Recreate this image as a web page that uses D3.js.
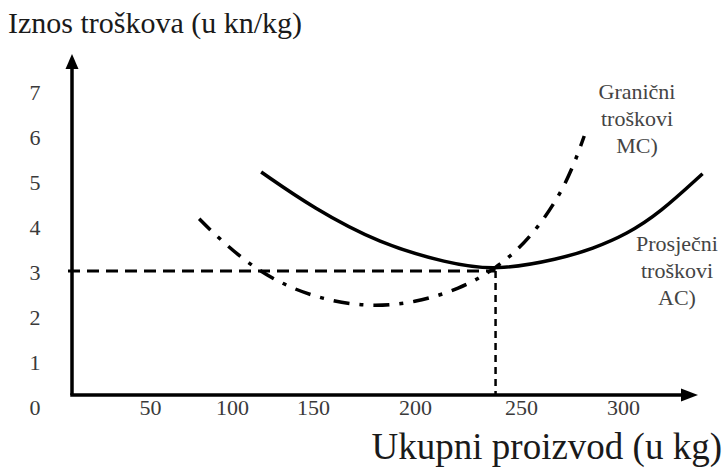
<!DOCTYPE html>
<html>
<head>
<meta charset="utf-8">
<script src="https://cdn.jsdelivr.net/npm/d3@7"></script>
<style>
    body { margin: 0; background: #fff; }
</style>
</head>
<body>
<div></div>
<script>
// tick labels
const xTicks = [50, 100, 150, 200, 250, 300];
const yTicks = [0, 1, 2, 3, 4, 5, 6, 7];

// prosjecni troskovi (AC)
const acQ = [118, 150, 183, 215, 238, 269, 285, 302, 318, 339];
const acC = [5.2, 4.4, 3.6, 3.18, 3.0, 3.27, 3.49, 3.82, 4.29, 5.16];

// granicni troskovi (MC)
const mcQ = [80, 87, 107, 130, 155, 177.5, 200, 221, 238, 255, 272, 281];
const mcC = [4.16, 3.9, 3.24, 2.71, 2.36, 2.2, 2.29, 2.6, 3.04, 3.73, 4.87, 6.0];

// minimum AC
const minQ = 238, minC = 3;

window.onload = (ev) => {
    const w = 725, h = 474,
        axisX = 72, axisY = 395,
        serif = '"Liberation Serif", "Times New Roman", Times, "DejaVu Serif", serif';

    const svg = d3.select("div")
        .append("svg")
        .attr("width", w)
        .attr("height", h);

    // the printed x axis is not evenly spaced, so the scale follows its labels
    const xScale = d3.scaleLinear()
        .domain([0, 50, 100, 150, 200, 250, 300])
        .range([68, 150, 232, 313, 415, 521, 623]);

    const yScale = d3.scaleLinear()
        .domain([0, 7])
        .range([406, 91]);

    // axes with arrows
    svg.append("line")
        .attr("x1", axisX).attr("y1", axisY)
        .attr("x2", axisX).attr("y2", 66)
        .attr("stroke", "#000").attr("stroke-width", 3.5);
    svg.append("path")
        .attr("d", `M${axisX},54 L${axisX - 6.5},69 L${axisX + 6.5},69 Z`)
        .attr("fill", "#000");

    svg.append("line")
        .attr("x1", axisX - 1.75).attr("y1", axisY)
        .attr("x2", 684).attr("y2", axisY)
        .attr("stroke", "#000").attr("stroke-width", 3.5);
    svg.append("path")
        .attr("d", `M698,${axisY} L681,${axisY - 6.5} L681,${axisY + 6.5} Z`)
        .attr("fill", "#000");

    // tick labels
    const xAxis = d3.axisBottom(xScale)
        .tickValues(xTicks)
        .tickSize(0)
        .tickPadding(0)
        .tickFormat(d3.format("d"));

    const gx = svg.append("g")
        .attr("transform", "translate(0," + 415 + ")")
        .call(xAxis)
        .attr("font-family", serif);
    gx.select(".domain").remove();
    gx.selectAll("text")
        .attr("dy", 0)
        .attr("font-size", 22)
        .attr("fill", "#3a3a3a");

    const yAxis = d3.axisLeft(yScale)
        .tickValues(yTicks)
        .tickSize(0)
        .tickPadding(0)
        .tickFormat(d3.format("d"));

    const gy = svg.append("g")
        .attr("transform", "translate(35,0)")
        .call(yAxis)
        .attr("font-family", serif);
    gy.select(".domain").remove();
    gy.selectAll("text")
        .attr("text-anchor", "middle")
        .attr("dy", "0.4em")
        .attr("font-size", 22)
        .attr("fill", "#3a3a3a");

    // dashed guides to the AC minimum
    svg.append("line")
        .attr("x1", axisX - 4).attr("y1", yScale(minC))
        .attr("x2", xScale(minQ)).attr("y2", yScale(minC))
        .attr("stroke", "#000").attr("stroke-width", 3)
        .attr("stroke-dasharray", "12,7");
    svg.append("line")
        .attr("x1", xScale(minQ)).attr("y1", yScale(minC))
        .attr("x2", xScale(minQ)).attr("y2", axisY)
        .attr("stroke", "#000").attr("stroke-width", 2.5)
        .attr("stroke-dasharray", "7,5");

    const line = d3.line()
        .x(d => xScale(d[0]))
        .y(d => yScale(d[1]))
        .curve(d3.curveBasis);

    svg.append("path")
        .datum(mcQ.map((q, i) => [q, mcC[i]]))
        .attr("d", line)
        .attr("fill", "none")
        .attr("stroke", "#000")
        .attr("stroke-width", 3.5)
        .attr("stroke-dasharray", "16,10,4,10");

    svg.append("path")
        .datum(acQ.map((q, i) => [q, acC[i]]))
        .attr("d", line)
        .attr("fill", "none")
        .attr("stroke", "#000")
        .attr("stroke-width", 3.5);

    // axis titles
    svg.append("text")
        .attr("x", 8).attr("y", 33)
        .attr("font-family", serif)
        .attr("font-size", 30)
        .attr("fill", "#1a1a1a")
        .text("Iznos troškova (u kn/kg)");

    svg.append("text")
        .attr("x", 722).attr("y", 459)
        .attr("text-anchor", "end")
        .attr("font-family", serif)
        .attr("font-size", 37)
        .attr("fill", "#1a1a1a")
        .text("Ukupni proizvod (u kg)");

    // curve labels
    const note = (lines, cx, y0) => {
        svg.append("text")
            .attr("text-anchor", "middle")
            .attr("font-family", serif)
            .attr("font-size", 22)
            .attr("fill", "#444")
            .selectAll("tspan")
            .data(lines)
            .enter()
            .append("tspan")
            .attr("x", cx)
            .attr("y", (d, i) => y0 + i * 27)
            .text(d => d);
    };
    note(["Granični", "troškovi", "MC)"], 637, 99);
    note(["Prosječni", "troškovi", "AC)"], 677, 251);
};
</script>
</body>
</html>
